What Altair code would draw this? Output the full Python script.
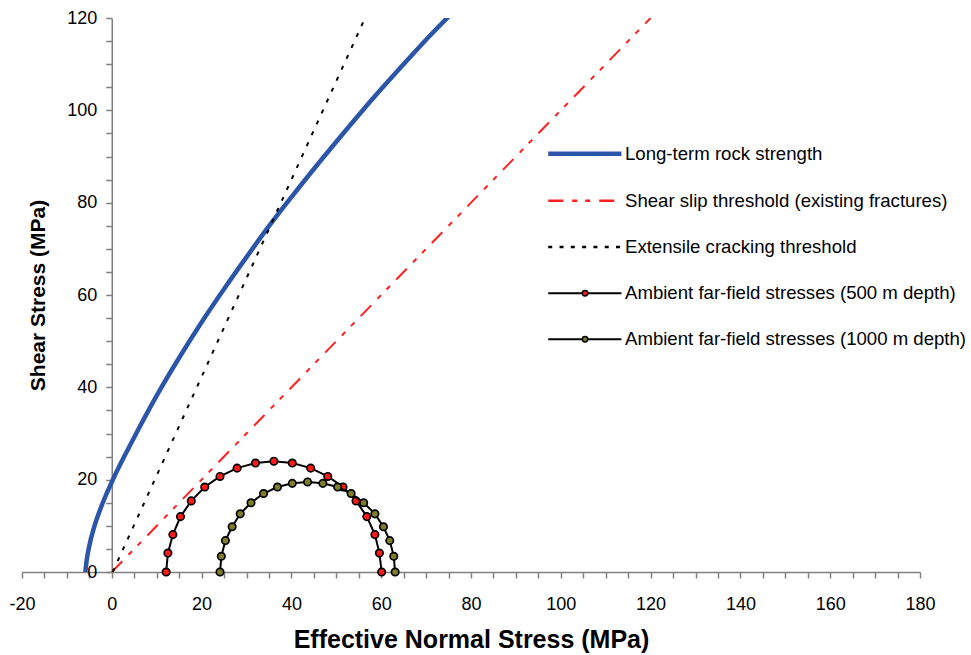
import altair as alt
import pandas as pd

# ---------------- data ----------------
# Long-term rock strength (blue curve)
strength_x = [-5.9, -5.6, -5.0, -4.0, -2.6, 0.0, 5.0, 10.0, 15.0, 20.0, 25.0, 30.0,
              35.0, 40.0, 45.0, 50.0, 55.0, 60.0, 65.0, 70.0, 75.3]
strength_y = [0.0, 2.5, 5.7, 9.5, 13.5, 19.5, 29.2, 38.2, 46.4, 54.1, 61.3, 68.2,
              74.9, 81.2, 87.3, 93.2, 99.0, 104.6, 110.0, 115.3, 120.6]

# Shear slip threshold (red dash-dot)
slip_x = [0.0, 120.0]
slip_y = [0.0, 120.0]

# Extensile cracking threshold (black dotted)
ext_x = [0.2, 56.4]
ext_y = [0.0, 120.0]

# Ambient far-field stresses, 500 m depth (markers)
m500_x = [12.1, 12.5, 13.6, 15.3, 17.7, 20.7, 24.1, 27.9, 32.0, 36.1,
          40.2, 44.3, 48.1, 51.5, 54.4, 56.8, 58.6, 59.6, 60.1]
m500_y = [0.0, 4.1, 8.1, 12.0, 15.4, 18.4, 20.7, 22.5, 23.6, 24.0,
          23.6, 22.5, 20.7, 18.4, 15.4, 12.0, 8.1, 4.1, 0.0]

# Ambient far-field stresses, 1000 m depth (markers)
m1000_x = [24.1, 24.4, 25.3, 26.8, 28.6, 31.0, 33.8, 36.9, 40.2, 43.6,
           47.0, 50.3, 53.3, 56.1, 58.6, 60.5, 61.9, 62.8, 63.1]
m1000_y = [0.0, 3.4, 6.8, 9.8, 12.6, 15.0, 17.0, 18.4, 19.2, 19.5,
           19.2, 18.4, 17.0, 15.0, 12.6, 9.8, 6.8, 3.4, 0.0]

legend_labels = ["Long-term rock strength",
                 "Shear slip threshold (existing fractures)",
                 "Extensile cracking threshold",
                 "Ambient far-field stresses (500 m depth)",
                 "Ambient far-field stresses (1000 m depth)"]

x_ticks = list(range(-20, 181, 5))
y_ticks = list(range(0, 121, 5))

# ---------------- styles ----------------
FONT = "Liberation Sans"
BLUE = "#2b55a8"
RED = "#ff1f1f"
RED_FILL = "#ff1a1a"
OLIVE = "#7d7d2a"
AXIS_GREY = "#808080"

# legend placement (data units of the plot)
LEG_X0, LEG_X1, LEG_TX, LEG_MX = 97.2, 113.5, 114.3, 105.4
LEG_Y = [90.6, 80.4, 70.4, 60.4, 50.4]

xscale = alt.Scale(domain=[-20, 180], nice=False, zero=False)
yscale = alt.Scale(domain=[0, 120], nice=False)

label_expr = "datum.value % 20 === 0 ? '' + datum.value : ''"

xaxis = alt.Axis(values=x_ticks, labelExpr=label_expr, tickSize=6, tickColor=AXIS_GREY,
                 tickWidth=1.5, domainColor=AXIS_GREY, domainWidth=1.5, grid=False,
                 labelFont=FONT, labelFontSize=18, labelColor="black", labelPadding=17,
                 labelOverlap=False, labelFlush=False,
                 title="Effective Normal Stress (MPa)", titleFont=FONT, titleFontSize=25,
                 titleFontWeight="bold", titleColor="black", titlePadding=14)
yaxis = alt.Axis(values=y_ticks, labelExpr=label_expr, tickSize=6, tickColor=AXIS_GREY,
                 tickWidth=1.5, domainColor=AXIS_GREY, domainWidth=1.5, grid=False,
                 labelFont=FONT, labelFontSize=18, labelColor="black", labelPadding=9,
                 labelOverlap=False, labelFlush=False, offset=-89.75,
                 title="Shear Stress (MPa)", titleFont=FONT, titleFontSize=21,
                 titleFontWeight="bold", titleColor="black", titlePadding=18)


def df(xs, ys):
    return pd.DataFrame({"x": xs, "y": ys})


X = alt.X("x:Q", scale=xscale, axis=xaxis)
Y = alt.Y("y:Q", scale=yscale, axis=yaxis)

DASH_SLIP = [15, 9, 5, 8, 5, 9]
DASH_DOT = [4, 8]

strength = alt.Chart(df(strength_x, strength_y)).mark_line(
    color=BLUE, strokeWidth=4.5, interpolate="monotone", clip=True).encode(x=X, y=Y)
slip = alt.Chart(df(slip_x, slip_y)).mark_line(
    color=RED, strokeWidth=2, strokeDash=DASH_SLIP, clip=True).encode(x=X, y=Y)
ext = alt.Chart(df(ext_x, ext_y)).mark_line(
    color="black", strokeWidth=2, strokeDash=DASH_DOT, clip=True).encode(x=X, y=Y)

m500_line = alt.Chart(df(m500_x, m500_y)).mark_line(
    color="black", strokeWidth=2, clip=True).encode(x=X, y=Y)
m500_pts = alt.Chart(df(m500_x, m500_y)).mark_circle(
    size=55, color=RED_FILL, opacity=1, stroke="black", strokeWidth=1.7).encode(x=X, y=Y)
m1000_line = alt.Chart(df(m1000_x, m1000_y)).mark_line(
    color="black", strokeWidth=2, clip=True).encode(x=X, y=Y)
m1000_pts = alt.Chart(df(m1000_x, m1000_y)).mark_circle(
    size=55, color=OLIVE, opacity=1, stroke="black", strokeWidth=1.7).encode(x=X, y=Y)

# ---------------- legend ----------------
def leg_rule(i, **kw):
    d = pd.DataFrame({"x": [LEG_X0], "x2": [LEG_X1], "y": [LEG_Y[i]]})
    return alt.Chart(d).mark_rule(**kw).encode(x=X, x2="x2:Q", y=Y)

leg_lines = [
    leg_rule(0, color=BLUE, strokeWidth=4.5),
    leg_rule(1, color=RED, strokeWidth=2.5, strokeDash=DASH_SLIP),
    leg_rule(2, color="black", strokeWidth=2.5, strokeDash=[4, 7.3]),
    leg_rule(3, color="black", strokeWidth=2),
    leg_rule(4, color="black", strokeWidth=2),
]
leg_m500 = alt.Chart(pd.DataFrame({"x": [LEG_MX], "y": [LEG_Y[3]]})).mark_circle(
    size=30, color=RED_FILL, opacity=1, stroke="black", strokeWidth=1.5).encode(x=X, y=Y)
leg_m1000 = alt.Chart(pd.DataFrame({"x": [LEG_MX], "y": [LEG_Y[4]]})).mark_circle(
    size=30, color=OLIVE, opacity=1, stroke="black", strokeWidth=1.5).encode(x=X, y=Y)
leg_text = alt.Chart(pd.DataFrame({"x": [LEG_TX] * 5, "y": LEG_Y, "t": legend_labels})).mark_text(
    align="left", baseline="middle", font=FONT, fontSize=18.6, color="black").encode(
    x=X, y=Y, text="t:N")

chart = alt.layer(
    strength, slip, ext, m500_line, m500_pts, m1000_line, m1000_pts,
    *leg_lines, leg_m500, leg_m1000, leg_text
).properties(
    width=898, height=554,
    autosize=alt.AutoSizeParams(type="none"),
    padding={"left": 22, "top": 18, "right": 51, "bottom": 83},
    background="white",
).configure_view(stroke=None)

chart.save("out.html", embed_options={"renderer": "svg", "actions": False})
